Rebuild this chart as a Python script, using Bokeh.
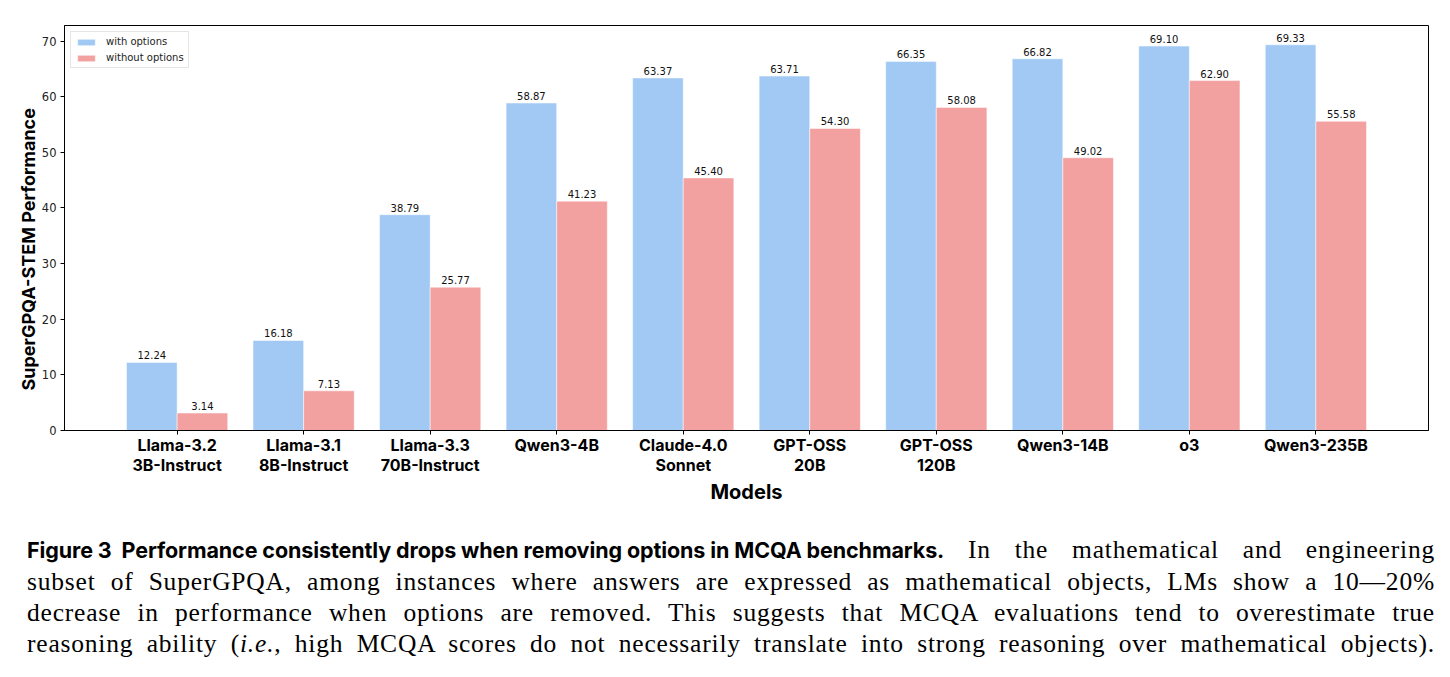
from bokeh.plotting import figure
from bokeh.models import ColumnDataSource, FixedTicker, Legend, LegendItem, Div, Range1d, Title
from bokeh.layouts import column
from bokeh.transform import dodge
from bokeh.embed import file_html
from bokeh.resources import INLINE
from bokeh.core.properties import value

models = ["Llama-3.2\n3B-Instruct", "Llama-3.1\n8B-Instruct", "Llama-3.3\n70B-Instruct",
          "Qwen3-4B", "Claude-4.0\nSonnet", "GPT-OSS\n20B", "GPT-OSS\n120B",
          "Qwen3-14B", "o3", "Qwen3-235B"]
with_options = [12.24, 16.18, 38.79, 58.87, 63.37, 63.71, 66.35, 66.82, 69.10, 69.33]
without_options = [3.14, 7.13, 25.77, 41.23, 45.40, 54.30, 58.08, 49.02, 62.90, 55.58]
y_ticks = [0, 10, 20, 30, 40, 50, 60, 70]

BLUE = "#a1c9f4"
RED = "#f3a0a0"
bar_w = 0.4
SANS = "Inter"

idx = list(range(len(models)))
src = ColumnDataSource(dict(
    x=idx,
    w=with_options,
    wo=without_options,
    wl=[f"{v:.2f}" for v in with_options],
    wol=[f"{v:.2f}" for v in without_options],
))

p = figure(width=1450, height=533, output_backend="svg", toolbar_location=None,
           x_range=Range1d(-0.89, 9.89), y_range=Range1d(0, 72.8),
           min_border_left=64, min_border_right=22, min_border_top=25, min_border_bottom=103)
p.background_fill_color = "white"
p.border_fill_color = "white"
p.outline_line_color = "black"
p.outline_line_width = 1
p.xgrid.visible = False
p.ygrid.visible = False

r1 = p.vbar(x=dodge("x", -bar_w / 2), top="w", width=bar_w, source=src,
            fill_color=BLUE, line_color="white", line_width=0.5)
r2 = p.vbar(x=dodge("x", bar_w / 2), top="wo", width=bar_w, source=src,
            fill_color=RED, line_color="white", line_width=0.5)

for col, lab, off in (("w", "wl", -bar_w / 2), ("wo", "wol", bar_w / 2)):
    p.text(x=dodge("x", off), y=col, text=lab, source=src, text_align="center",
           text_baseline="bottom", y_offset=-3, text_font_size="10px",
           text_font=value("DejaVu Sans"), text_color="#111111")

# x axis
p.xaxis.ticker = FixedTicker(ticks=idx)
p.xaxis.major_label_overrides = {i: m for i, m in enumerate(models)}
p.xaxis.major_label_text_font = SANS
p.xaxis.major_label_text_font_style = "bold"
p.xaxis.major_label_text_font_size = "16px"
p.xaxis.major_label_text_line_height = 1.0
p.xaxis.major_label_text_color = "black"
p.xaxis.major_label_standoff = 0
p.xaxis.major_tick_out = 4
p.xaxis.major_tick_in = 0
p.xaxis.minor_tick_line_color = None
p.xaxis.axis_label = "Models"
p.xaxis.axis_label_text_font = SANS
p.xaxis.axis_label_text_font_style = "bold"
p.xaxis.axis_label_text_font_size = "20px"
p.xaxis.axis_label_text_color = "black"
p.xaxis.axis_label_standoff = 2
p.xaxis.axis_line_color = "black"

# y axis
p.yaxis.ticker = FixedTicker(ticks=y_ticks)
p.yaxis.major_label_text_font = "DejaVu Sans"
p.yaxis.major_label_text_font_size = "11.5px"
p.yaxis.major_label_text_color = "#222222"
p.yaxis.major_label_standoff = 4
p.yaxis.major_tick_out = 4
p.yaxis.major_tick_in = 0
p.yaxis.minor_tick_line_color = None
p.yaxis.axis_line_color = "black"

ytitle = Title(text="SuperGPQA-STEM Performance", align="left", offset=40,
               text_font=SANS, text_font_style="bold", text_font_size="18px",
               text_color="black", standoff=0)
p.add_layout(ytitle, "left")

legend = Legend(items=[LegendItem(label="with options", renderers=[r1]),
                       LegendItem(label="without options", renderers=[r2])],
                location="top_left")
legend.label_text_font = "DejaVu Sans"
legend.label_text_font_size = "10px"
legend.label_text_color = "#222222"
legend.glyph_width = 22
legend.glyph_height = 8
legend.label_height = 10
legend.spacing = 5
legend.padding = 4
legend.margin = 6
legend.label_standoff = 9
legend.border_line_color = "#cccccc"
legend.border_line_width = 1
legend.background_fill_alpha = 0.9
p.add_layout(legend)

line_style = "text-align:justify; text-align-last:justify; white-space:nowrap;"
bold = ("display:inline-block; font-family:'Inter'; font-weight:bold; font-size:21.5px; "
        "letter-spacing:-0.1px; white-space:pre;")
caption_html = f"""
<div style="font-family:'Liberation Serif'; font-size:25.5px; line-height:31px; letter-spacing:0.8px; color:#000; width:1408px; margin-left:22px; margin-top:-4px;">
<div style="{line_style}"><span style="{bold}">Figure 3  Performance consistently drops when removing options in MCQA benchmarks.</span> In the mathematical and engineering</div>
<div style="{line_style}">subset of SuperGPQA, among instances where answers are expressed as mathematical objects, LMs show a 10&mdash;20%</div>
<div style="{line_style}">decrease in performance when options are removed. This suggests that MCQA evaluations tend to overestimate true</div>
<div style="{line_style}">reasoning ability (<i>i.e.</i>, high MCQA scores do not necessarily translate into strong reasoning over mathematical objects).</div>
</div>
"""
div = Div(text=caption_html, width=1450, height=144)

layout = column(p, div, spacing=0)
open("out.html", "w").write(file_html(layout, INLINE))
